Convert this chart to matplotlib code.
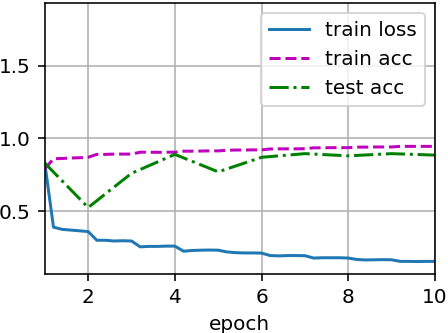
import numpy as np
import matplotlib
matplotlib.use("Agg")
import matplotlib.pyplot as plt

# loss / train acc logged 5 times per epoch, test acc once per epoch
batch_x = [1.0] + [e + f for e in range(1, 10) for f in (0.2, 0.4, 0.6, 0.8, 1.0)]
train_loss = [0.83,
              0.39, 0.375, 0.37, 0.365, 0.36,
              0.30, 0.30, 0.295, 0.297, 0.295,
              0.255, 0.258, 0.258, 0.26, 0.26,
              0.225, 0.23, 0.232, 0.233, 0.232,
              0.22, 0.215, 0.213, 0.213, 0.212,
              0.195, 0.193, 0.195, 0.195, 0.194,
              0.178, 0.18, 0.18, 0.18, 0.178,
              0.168, 0.165, 0.166, 0.167, 0.166,
              0.155, 0.155, 0.154, 0.155, 0.155]
train_acc = [0.79,
             0.86, 0.862, 0.865, 0.867, 0.87,
             0.89, 0.89, 0.892, 0.892, 0.892,
             0.905, 0.905, 0.904, 0.905, 0.905,
             0.912, 0.912, 0.913, 0.914, 0.914,
             0.918, 0.92, 0.92, 0.921, 0.921,
             0.927, 0.928, 0.928, 0.928, 0.929,
             0.935, 0.935, 0.936, 0.936, 0.936,
             0.94, 0.94, 0.941, 0.941, 0.941,
             0.945, 0.945, 0.945, 0.945, 0.945]
epochs = [1, 2, 3, 4, 5, 6, 7, 8, 9, 10]
test_acc = [0.83, 0.525, 0.76, 0.89, 0.77, 0.87, 0.895, 0.88, 0.895, 0.885]

dpi = 144
fig = plt.figure(figsize=(448 / dpi, 333 / dpi), dpi=dpi)
ax = fig.add_axes([0.1, 0.177, 0.871, 0.815])

ax.plot(batch_x, train_loss, '-', color='#1f77b4', label='train loss')
ax.plot(batch_x, train_acc, 'm--', label='train acc')
ax.plot(epochs, test_acc, 'g-.', label='test acc')

ax.set_xlim(1, 10)
ax.set_ylim(0.068, 1.932)
ax.set_xticks([2, 4, 6, 8, 10])
ax.set_yticks([0.5, 1.0, 1.5])
ax.set_xlabel("epoch")
ax.grid(True)
ax.legend(loc='upper right')

fig.savefig("out.png", dpi=dpi)
